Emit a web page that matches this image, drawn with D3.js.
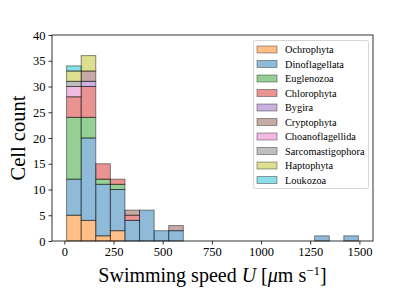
<!DOCTYPE html>
<html><head><meta charset="utf-8">
<script src="https://cdn.jsdelivr.net/npm/d3@7"></script>
<style>body{margin:0;background:#fff}svg{display:block}</style>
</head><body>
<svg id="c" width="415" height="297"></svg>
<script>
const binEdges = [11.5,85.7,159.9,234.0,308.2,382.4,456.6,530.7,604.9,679.1,753.3,827.4,901.6,975.8,1050.0,1124.1,1198.3,1272.5,1346.7,1420.8,1495.0];
const groups = ["Ochrophyta","Dinoflagellata","Euglenozoa","Chlorophyta","Bygira","Cryptophyta","Choanoflagellida","Sarcomastigophora","Haptophyta","Loukozoa"];
const colors = ["#ff7f0e","#1f77b4","#2ca02c","#d62728","#9467bd","#8c564b","#e377c2","#7f7f7f","#bcbd22","#17becf"];
// counts per bin (20 bins) per group
const Ochrophyta        = [5,4,1,2,0,0,0,0,0,0,0,0,0,0,0,0,0,0,0,0];
const Dinoflagellata    = [7,16,10,8,4,6,2,2,0,0,0,0,0,0,0,0,0,1,0,1];
const Euglenozoa        = [12,4,1,1,0,0,0,0,0,0,0,0,0,0,0,0,0,0,0,0];
const Chlorophyta       = [4,6,3,1,1,0,0,0,0,0,0,0,0,0,0,0,0,0,0,0];
const Bygira            = [0,1,0,0,0,0,0,0,0,0,0,0,0,0,0,0,0,0,0,0];
const Cryptophyta       = [0,2,0,0,1,0,0,1,0,0,0,0,0,0,0,0,0,0,0,0];
const Choanoflagellida  = [2,0,0,0,0,0,0,0,0,0,0,0,0,0,0,0,0,0,0,0];
const Sarcomastigophora = [1,0,0,0,0,0,0,0,0,0,0,0,0,0,0,0,0,0,0,0];
const Haptophyta        = [2,3,0,0,0,0,0,0,0,0,0,0,0,0,0,0,0,0,0,0];
const Loukozoa          = [1,0,0,0,0,0,0,0,0,0,0,0,0,0,0,0,0,0,0,0];
const series = [Ochrophyta,Dinoflagellata,Euglenozoa,Chlorophyta,Bygira,Cryptophyta,Choanoflagellida,Sarcomastigophora,Haptophyta,Loukozoa];
const xTicks = [0,250,500,750,1000,1250,1500];
const yTicks = [0,5,10,15,20,25,30,35,40];

const svg = d3.select("#c");
const L=52, R=373, T=35, B=241;
const span = binEdges[binEdges.length-1]-binEdges[0];
const x = d3.scaleLinear().domain([binEdges[0]-0.05*span, binEdges[binEdges.length-1]+0.05*span]).range([L,R]);
const y = d3.scaleLinear().domain([0,40]).range([B,T]);
const font = "'Liberation Serif', serif";

// bars
const rows = binEdges.slice(0,-1).map((e,i)=>{const o={i}; groups.forEach((g,k)=>o[g]=series[k][i]); return o;});
const stacked = d3.stack().keys(groups)(rows);
stacked.forEach((layer,k)=>{
  svg.append("g").selectAll("rect").data(layer.filter(d=>d[1]>d[0])).join("rect")
    .attr("x",d=>x(binEdges[d.data.i]))
    .attr("width",d=>x(binEdges[d.data.i+1])-x(binEdges[d.data.i]))
    .attr("y",d=>y(d[1]))
    .attr("height",d=>y(d[0])-y(d[1]))
    .attr("fill",colors[k]).attr("fill-opacity",0.5)
    .attr("stroke","#000").attr("stroke-opacity",0.45).attr("stroke-width",1);
});

// axes
const xa = svg.append("g").attr("transform",`translate(0,${B})`)
  .call(d3.axisBottom(x).tickValues(xTicks).tickSize(3.5).tickPadding(3).tickFormat(d3.format("d")));
const ya = svg.append("g").attr("transform",`translate(${L},0)`)
  .call(d3.axisLeft(y).tickValues(yTicks).tickSize(3.5).tickPadding(3).tickFormat(d3.format("d")));
[xa,ya].forEach(a=>{a.select(".domain").remove(); a.selectAll("text").attr("font-family",font).attr("font-size",12.5).attr("fill","#000"); a.selectAll("line").attr("stroke","#000").attr("stroke-width",0.8);});
svg.append("rect").attr("x",L).attr("y",T).attr("width",R-L).attr("height",B-T).attr("fill","none").attr("stroke","#000").attr("stroke-width",0.8);

// labels
svg.append("text").attr("transform",`translate(25,${(T+B)/2}) rotate(-90)`).attr("text-anchor","middle")
  .attr("font-family",font).attr("font-size",20.5).text("Cell count");
const xl = svg.append("text").attr("x",(L+R)/2).attr("y",282).attr("text-anchor","middle").attr("font-family",font).attr("font-size",20);
xl.append("tspan").text("Swimming speed ");
xl.append("tspan").attr("font-style","italic").text("U");
xl.append("tspan").text("  [");
xl.append("tspan").attr("font-style","italic").text("μ");
xl.append("tspan").text("m s");
xl.append("tspan").attr("font-size",13).attr("dy",-7).text("−1");
xl.append("tspan").attr("dy",7).text("]");

// legend
const lg = svg.append("g");
lg.append("rect").attr("x",253.5).attr("y",40.5).attr("width",115).attr("height",148).attr("rx",2)
  .attr("fill","#fff").attr("fill-opacity",0.8).attr("stroke","#ccc").attr("stroke-width",0.8);
groups.forEach((g,k)=>{
  const cy = 49.5 + k*14.5;
  lg.append("rect").attr("x",257).attr("y",cy-3.5).attr("width",20).attr("height",7)
    .attr("fill",colors[k]).attr("fill-opacity",0.5).attr("stroke","#000").attr("stroke-opacity",0.45).attr("stroke-width",0.8);
  lg.append("text").attr("x",285).attr("y",cy+3.5).attr("font-family",font).attr("font-size",10.3).text(g);
});
</script>
</body></html>
